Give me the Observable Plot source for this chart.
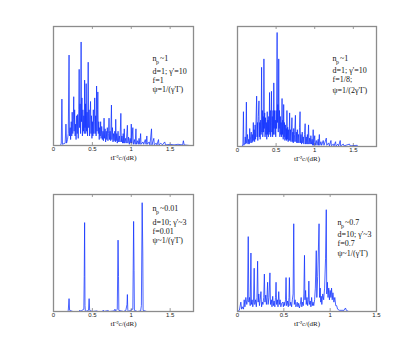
<!DOCTYPE html>
<html><head><meta charset="utf-8">
<script src="https://cdn.jsdelivr.net/npm/d3@7"></script>
<script src="https://cdn.jsdelivr.net/npm/@observablehq/plot@0.6"></script>
<style>
body{margin:0;background:#fff;}
#c{position:relative;width:415px;height:350px;overflow:hidden;}
.p{position:absolute;}
</style>
</head><body><div id="c"></div>
<script>
// ---- Data (time in tΓ²c/(dR), flux in relative units) ----
const tlT = [0,0.09,0.1,0.108,0.115,0.15,0.16,0.168,0.18,0.19,0.2,0.205,0.215,0.22,0.228,0.235,0.24,0.248,0.255,0.26,0.265,0.272,0.278,0.285,0.29,0.298,0.305,0.31,0.318,0.325,0.33,0.336,0.342,0.348,0.355,0.36,0.366,0.372,0.378,0.384,0.39,0.396,0.4,0.405,0.41,0.415,0.42,0.426,0.432,0.438,0.446,0.452,0.458,0.464,0.47,0.476,0.482,0.488,0.494,0.5,0.506,0.512,0.518,0.524,0.53,0.536,0.542,0.548,0.554,0.56,0.566,0.57,0.576,0.582,0.588,0.594,0.6,0.606,0.612,0.62,0.628,0.636,0.642,0.65,0.656,0.664,0.67,0.678,0.685,0.692,0.7,0.707,0.714,0.72,0.728,0.735,0.745,0.75,0.758,0.765,0.772,0.78,0.788,0.795,0.8,0.806,0.814,0.82,0.83,0.838,0.846,0.855,0.866,0.872,0.88,0.888,0.896,0.903,0.91,0.916,0.925,0.935,0.95,0.956,0.965,0.975,0.985,0.995,1.0,1.006,1.02,1.026,1.04,1.05,1.06,1.066,1.08,1.09,1.1,1.11,1.12,1.126,1.15,1.16,1.18,1.19,1.2,1.206,1.23,1.24,1.26,1.266,1.29,1.296,1.32,1.33,1.35,1.356,1.38,1.4,1.43,1.44,1.5,1.55,1.6,1.66,1.67,1.68,1.75];
const tlY = [0,0,0.02,0.39,0.01,0.02,0.18,0.02,0.05,0.1,0.76,0.08,0.15,0.05,0.2,0.08,0.28,0.1,0.22,0.41,0.12,0.3,0.08,0.18,0.05,0.25,0.1,0.26,0.06,0.3,0.64,0.15,0.35,0.1,0.87,0.2,0.4,0.08,0.3,0.12,0.25,0.1,0.55,0.15,0.35,0.1,0.52,0.12,0.28,0.08,0.7,0.15,0.3,0.08,0.22,0.37,0.1,0.25,0.06,0.2,0.08,0.3,0.1,0.2,0.4,0.1,0.25,0.08,0.5,0.12,0.3,0.45,0.1,0.2,0.05,0.15,0.08,0.2,0.06,0.16,0.05,0.12,0.04,0.23,0.06,0.14,0.03,0.12,0.05,0.15,0.04,0.1,0.23,0.05,0.12,0.04,0.34,0.05,0.15,0.03,0.1,0.04,0.12,0.03,0.22,0.04,0.1,0.02,0.12,0.03,0.08,0.03,0.27,0.03,0.08,0.02,0.1,0.02,0.14,0.02,0.06,0.02,0.17,0.02,0.07,0.01,0.06,0.02,0.18,0.02,0.15,0.01,0.05,0.01,0.14,0.01,0.04,0.01,0.06,0.01,0.1,0.01,0.03,0.01,0.05,0.01,0.08,0.01,0.03,0.005,0.14,0.005,0.06,0.005,0.02,0.005,0.05,0.005,0.02,0.005,0.03,0.005,0.01,0.005,0.01,0.005,0.04,0.005,0];

const trT = [0,0.06,0.07,0.077,0.082,0.095,0.1,0.108,0.115,0.12,0.13,0.136,0.145,0.152,0.158,0.163,0.17,0.178,0.185,0.192,0.198,0.205,0.21,0.216,0.222,0.228,0.234,0.24,0.248,0.253,0.258,0.263,0.27,0.278,0.283,0.288,0.294,0.3,0.306,0.312,0.317,0.322,0.327,0.333,0.338,0.342,0.347,0.352,0.357,0.363,0.368,0.374,0.379,0.385,0.39,0.395,0.4,0.405,0.41,0.415,0.42,0.425,0.43,0.435,0.44,0.445,0.45,0.455,0.46,0.465,0.47,0.475,0.48,0.485,0.49,0.495,0.5,0.505,0.513,0.518,0.523,0.528,0.534,0.539,0.544,0.549,0.555,0.56,0.566,0.571,0.577,0.582,0.587,0.592,0.598,0.603,0.608,0.614,0.62,0.626,0.632,0.636,0.64,0.645,0.65,0.656,0.662,0.668,0.675,0.68,0.686,0.692,0.698,0.705,0.71,0.716,0.722,0.728,0.734,0.74,0.75,0.755,0.762,0.768,0.775,0.782,0.79,0.797,0.803,0.81,0.815,0.822,0.83,0.838,0.845,0.852,0.86,0.868,0.876,0.882,0.89,0.898,0.905,0.912,0.92,0.926,0.935,0.942,0.95,0.958,0.966,0.974,0.98,0.986,1.0,1.006,1.02,1.03,1.045,1.05,1.06,1.066,1.08,1.09,1.11,1.12,1.15,1.156,1.18,1.19,1.21,1.216,1.24,1.25,1.27,1.276,1.3,1.31,1.33,1.336,1.37,1.38,1.45,1.46,1.55,1.56,1.75];
const trY = [0,0,0.02,0.29,0.01,0.03,0.08,0.02,0.37,0.03,0.1,0.02,0.06,0.02,0.15,0.03,0.08,0.12,0.03,0.1,0.04,0.2,0.05,0.14,0.04,0.18,0.06,0.22,0.42,0.08,0.2,0.05,0.25,0.38,0.08,0.2,0.06,0.22,0.1,0.66,0.12,0.3,0.08,0.25,0.12,0.73,0.15,0.28,0.08,0.24,0.1,0.2,0.06,0.29,0.1,0.22,0.08,0.25,0.12,0.45,0.1,0.3,0.08,0.2,0.46,0.12,0.25,0.08,0.3,0.1,0.53,0.15,0.3,0.1,0.22,0.08,0.3,0.15,0.95,0.2,0.35,0.12,0.73,0.15,0.3,0.08,0.25,0.1,0.2,0.08,0.4,0.1,0.22,0.06,0.35,0.08,0.2,0.05,0.18,0.06,0.15,0.05,0.3,0.06,0.16,0.04,0.14,0.05,0.28,0.05,0.14,0.04,0.12,0.24,0.04,0.12,0.03,0.15,0.04,0.1,0.26,0.04,0.12,0.03,0.14,0.03,0.1,0.03,0.16,0.29,0.03,0.1,0.02,0.12,0.03,0.08,0.02,0.1,0.19,0.02,0.08,0.02,0.1,0.02,0.18,0.02,0.07,0.02,0.09,0.02,0.06,0.01,0.14,0.01,0.09,0.01,0.05,0.01,0.06,0.01,0.1,0.01,0.04,0.01,0.05,0.01,0.07,0.01,0.03,0.005,0.05,0.005,0.02,0.005,0.04,0.005,0.02,0.005,0.05,0.005,0.02,0.005,0.02,0.005,0.01,0,0];

const blT = [0,0.18,0.19,0.2,0.207,0.25,0.33,0.34,0.345,0.39,0.395,0.4,0.405,0.41,0.45,0.458,0.465,0.5,0.56,0.57,0.63,0.64,0.645,0.7,0.72,0.78,0.79,0.8,0.82,0.83,0.836,0.84,0.9,0.93,0.945,0.95,0.955,0.96,1.02,1.03,1.036,1.04,1.08,1.12,1.13,1.14,1.148,1.152,1.2,1.75];
const blY = [0,0,0.01,0.11,0.01,0,0,0.012,0,0.02,0.3,0.76,0.05,0,0.01,0.11,0.01,0,0.005,0,0,0.012,0,0.008,0,0.005,0.02,0.005,0.02,0.61,0.3,0.01,0,0.01,0.06,0.145,0.02,0,0.02,0.77,0.35,0.01,0,0.005,0.05,0.93,0.5,0.01,0,0];

const brT = [0,0.02,0.036,0.045,0.055,0.065,0.072,0.08,0.09,0.1,0.108,0.116,0.122,0.13,0.137,0.145,0.15,0.158,0.165,0.172,0.18,0.186,0.195,0.203,0.21,0.217,0.223,0.23,0.237,0.245,0.253,0.26,0.268,0.275,0.283,0.29,0.296,0.305,0.312,0.318,0.325,0.33,0.34,0.35,0.356,0.365,0.372,0.38,0.387,0.395,0.403,0.41,0.416,0.422,0.43,0.437,0.445,0.452,0.46,0.468,0.476,0.488,0.495,0.503,0.51,0.518,0.524,0.53,0.54,0.548,0.556,0.56,0.566,0.575,0.584,0.592,0.6,0.607,0.613,0.622,0.63,0.638,0.644,0.652,0.66,0.668,0.678,0.687,0.694,0.703,0.71,0.716,0.723,0.728,0.735,0.742,0.75,0.757,0.765,0.77,0.776,0.785,0.792,0.8,0.807,0.815,0.823,0.832,0.84,0.85,0.856,0.865,0.872,0.88,0.886,0.893,0.898,0.904,0.91,0.92,0.93,0.94,0.95,0.958,0.963,0.97,0.977,0.985,0.992,1.0,1.008,1.015,1.022,1.03,1.04,1.05,1.06,1.07,1.08,1.1,1.15,1.165,1.175,1.2,1.5];
const brY = [0,0.01,0.08,0.02,0.04,0.02,0.1,0.04,0.12,0.06,0.1,0.64,0.08,0.12,0.05,0.5,0.06,0.1,0.04,0.08,0.37,0.06,0.1,0.04,0.12,0.43,0.08,0.15,0.05,0.1,0.17,0.04,0.08,0.06,0.12,0.32,0.08,0.14,0.06,0.12,0.25,0.06,0.12,0.33,0.06,0.1,0.04,0.13,0.05,0.09,0.04,0.12,0.25,0.06,0.1,0.04,0.17,0.06,0.1,0.04,0.07,0.08,0.04,0.08,0.05,0.1,0.29,0.05,0.09,0.04,0.12,0.29,0.05,0.08,0.04,0.1,0.15,0.75,0.06,0.1,0.04,0.06,0.08,0.04,0.07,0.03,0.06,0.12,0.04,0.08,0.05,0.15,0.48,0.1,0.18,0.06,0.12,0.05,0.1,0.26,0.06,0.09,0.04,0.12,0.05,0.08,0.05,0.1,0.2,0.52,0.12,0.3,0.5,0.75,0.12,0.2,0.08,0.13,0.06,0.15,0.1,0.2,0.45,0.87,0.15,0.25,0.12,0.2,0.1,0.18,0.12,0.2,0.1,0.16,0.08,0.12,0.05,0.05,0.02,0.01,0.01,0.03,0.01,0,0];

const xTicks = [0, 0.5, 1, 1.5];
const xLabel = "tΓ²c/(dR)";
const tlNote = ["~1", "d=1; γ'=10", "f=1", "ψ=1/(γ'Γ)"];
const trNote = ["~1", "d=1; γ'=10", "f=1/8;", "ψ=1/(2γ'Γ)"];
const blNote = ["~0.01", "d=10; γ'~3", "f=0.01", "ψ~1/(γ'Γ)"];
const brNote = ["~0.7", "d=10; γ'~3", "f=0.7", "ψ~1/(γ'Γ)"];

const serif = "Liberation Serif, Times New Roman, serif";
const sans = "Liberation Sans, Arial, sans-serif";

function panel(T, Y, xmax, note, box, noteDx, noteDy) {
  const data = T.map((t, i) => ({t, y: Y[i]}));
  const ticks = xTicks.filter(d => d <= xmax);
  const M = 10;
  const g = noteDy;
  const txt = {frameAnchor: "top-left", textAnchor: "start", lineAnchor: "middle", fontSize: 8, fontFamily: serif, fill: "#111"};
  const plot = Plot.plot({
    width: box.w + 2 * M, height: box.h + M + 30,
    marginLeft: M, marginRight: M, marginTop: M, marginBottom: 30,
    style: {background: "transparent", overflow: "visible"},
    x: {domain: [0, xmax]},
    y: {domain: [0, 1], axis: null},
    marks: [
      Plot.line(data, {x: "t", y: "y", stroke: "#0f30ff", strokeWidth: 0.75}),
      Plot.ruleX(ticks, {y1: 0, y2: 0.025, stroke: "#555", strokeWidth: 0.6}),
      Plot.ruleX(ticks, {y1: 0.975, y2: 1, stroke: "#555", strokeWidth: 0.6}),
      Plot.frame({stroke: "#8c8c8c", strokeWidth: 1.3}),
      Plot.axisX(ticks, {tickSize: 0, tickPadding: 1.5, fontSize: 6, fontFamily: sans, label: null, tickFormat: d => String(d), fill: "#222"}),
      Plot.text([xLabel], {frameAnchor: "bottom", dy: 14.5, fontSize: 7, fontFamily: serif, fill: "#111"}),
      Plot.text(["n"], {...txt, dx: noteDx, dy: g[0]}),
      Plot.text(["p"], {...txt, dx: noteDx + 3.5, dy: g[0] + 3.5, fontSize: 6}),
      Plot.text([note[0]], {...txt, dx: noteDx + 7.5, dy: g[0]}),
      Plot.text([note[1]], {...txt, dx: noteDx, dy: g[1]}),
      Plot.text([note[2]], {...txt, dx: noteDx, dy: g[2]}),
      Plot.text([note[3]], {...txt, dx: noteDx, dy: g[3]})
    ]
  });
  const div = document.createElement("div");
  div.className = "p";
  div.style.left = (box.x - M) + "px";
  div.style.top = (box.y - M) + "px";
  div.appendChild(plot);
  document.getElementById("c").appendChild(div);
}

panel(tlT, tlY, 1.8, tlNote, {x: 53, y: 26, w: 140, h: 119}, 99, [32, 45, 54, 63]);
panel(trT, trY, 1.8, trNote, {x: 237, y: 26, w: 139, h: 120}, 95, [32, 44, 53, 64]);
panel(blT, blY, 1.8, blNote, {x: 53, y: 194, w: 140, h: 117}, 99, [14, 28, 37, 46]);
panel(brT, brY, 1.5, brNote, {x: 237, y: 194, w: 139, h: 117}, 100, [28, 40, 49, 59]);
</script>
</body></html>
